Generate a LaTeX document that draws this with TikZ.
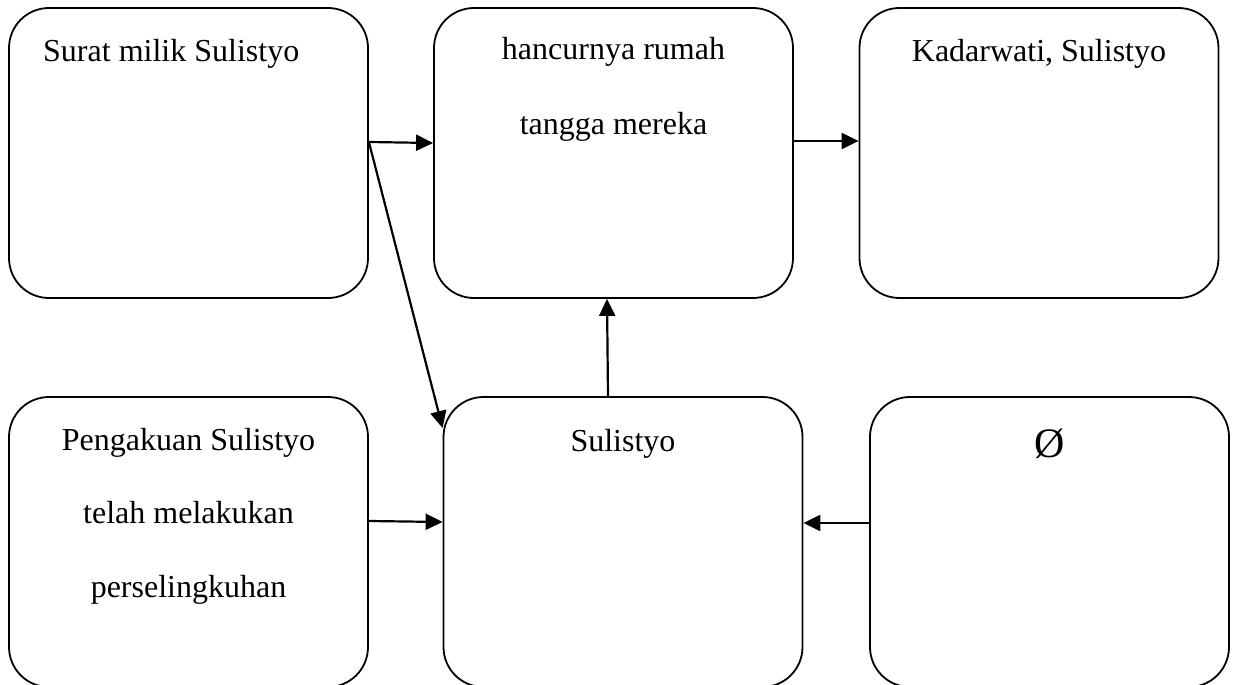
\documentclass[tikz,border=0pt]{standalone}
\usepackage{fontspec}
\setmainfont{Liberation Serif}
\usetikzlibrary{arrows.meta}
\begin{document}
\begin{tikzpicture}[x=1pt,y=-1pt,
  box/.style={draw=black,line width=1.8pt,rounded corners=40pt,minimum width=359pt,minimum height=290pt,inner sep=0pt,fill=none},
  lbl/.style={anchor=base,inner sep=0pt,font=\fontsize{32}{38}\selectfont},
  arr/.style={line width=2.2pt,-{Triangle[length=17pt,width=16pt]}}]
\useasboundingbox (0,0) rectangle (1235,685);
\fill[white] (0,0) rectangle (1235,685);
% upper row
\node[box] (tl) at (188.5,153) {};
\node[box] (tm) at (613.5,153) {};
\node[box] (tr) at (1039,153) {};
% lower row (runs past the lower edge)
\node[box] (bl) at (188.5,542) {};
\node[box] (bm) at (623,542) {};
\node[box] (br) at (1049.5,542) {};
% texts
\node[lbl,anchor=base west] (t1) at (43,62) {Surat milik Sulistyo};
\node[lbl] (t2a) at (613.5,60) {hancurnya rumah};
\node[lbl] (t2b) at (613.5,135) {tangga mereka};
\node[lbl] (t3) at (1039,62) {Kadarwati, Sulistyo};
\node[lbl] (t4a) at (188.5,450) {Pengakuan Sulistyo};
\node[lbl] (t4b) at (188.5,523.5) {telah melakukan};
\node[lbl] (t4c) at (188.5,597) {perselingkuhan};
\node[lbl] (t5) at (623,451) {Sulistyo};
\node[lbl,font=\fontsize{42}{48}\selectfont] (t6) at (1049.5,457) {Ø};
% connectors
\draw[arr] ([yshift=11pt]tl.east) -- ([yshift=10pt]tm.west);
\draw[arr] ([yshift=11pt]tl.east) -- ([yshift=114pt]bm.west);
\draw[arr] ([yshift=12pt]tm.east) -- ([yshift=12pt]tr.west);
\draw[arr] ([xshift=-15pt]bm.north) -- ([xshift=-6.5pt]tm.south);
\draw[arr] ([yshift=21pt]bl.east) -- ([yshift=20pt]bm.west);
\draw[arr] ([yshift=19pt]br.west) -- ([yshift=19pt]bm.east);
\end{tikzpicture}
\end{document}
